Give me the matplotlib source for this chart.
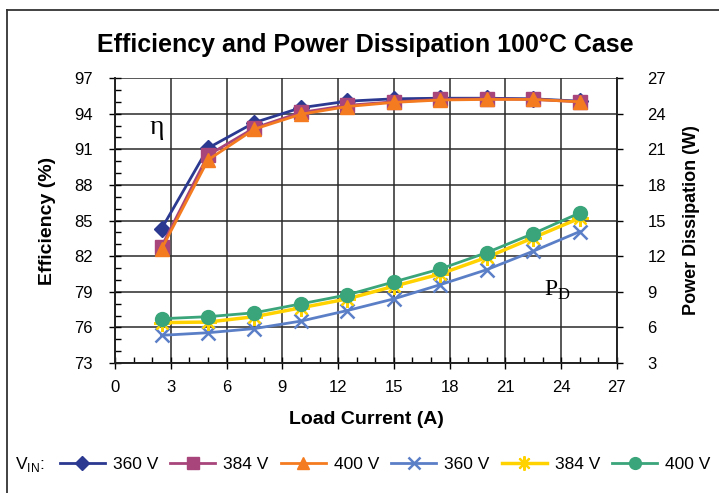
import numpy as np
import matplotlib
matplotlib.use("Agg")
import matplotlib.pyplot as plt
from matplotlib.lines import Line2D
from matplotlib.ticker import MultipleLocator, FixedLocator

plt.rcParams['font.family'] = ['Liberation Sans', 'DejaVu Sans']

# Данные
load_current = [2.5, 5, 7.5, 10, 12.5, 15, 17.5, 20, 22.5, 25]

eff_360 = [84.3, 91.1, 93.25, 94.5, 95.05, 95.25, 95.3, 95.3, 95.25, 95.05]
eff_384 = [82.8, 90.5, 92.8, 94.1, 94.7, 95.0, 95.2, 95.25, 95.2, 95.0]
eff_400 = [82.6, 90.1, 92.7, 93.95, 94.6, 94.95, 95.15, 95.2, 95.2, 95.0]

pd_360 = [5.33, 5.55, 5.9, 6.53, 7.42, 8.4, 9.6, 10.86, 12.42, 14.07]
pd_384 = [6.4, 6.45, 6.9, 7.65, 8.4, 9.46, 10.5, 11.9, 13.55, 15.2]
pd_400 = [6.73, 6.9, 7.23, 7.98, 8.74, 9.83, 10.92, 12.3, 13.9, 15.64]

eff_ticks = [73, 76, 79, 82, 85, 88, 91, 94, 97]
legend_labels = ['360 V', '384 V', '400 V', '360 V', '384 V', '400 V']

fig = plt.figure(figsize=(7.19, 4.93), dpi=100)
ax = fig.add_axes([0.160, 0.2637, 0.698, 0.578])
ax2 = ax.twinx()

# КПД
l1, = ax.plot(load_current, eff_360, color='#2B3990', marker='D', markersize=8, lw=2, zorder=5)
l2, = ax.plot(load_current, eff_384, color='#A8457A', marker='s', markersize=10, lw=2, zorder=5)
l3, = ax.plot(load_current, eff_400, color='#F47B20', marker='^', markersize=10, lw=2, zorder=6)

# Рассеиваемая мощность
l4, = ax2.plot(load_current, pd_360, color='#5B7FC7', marker='x', markersize=10, mew=1.8, lw=2)
l5, = ax2.plot(load_current, pd_384, color='#FFD200', marker=(8, 2, 0), markersize=12, mew=1.6, lw=2.5)
l6, = ax2.plot(load_current, pd_400, color='#3AA57A', marker='o', markersize=10, lw=2)

ax.set_xlim(0, 27)
ax.set_ylim(73, 97)
ax2.set_ylim(3, 27)
ax.xaxis.set_major_locator(MultipleLocator(3))
ax.xaxis.set_minor_locator(MultipleLocator(1))
ax.yaxis.set_major_locator(FixedLocator(eff_ticks))
ax.yaxis.set_minor_locator(MultipleLocator(1))
ax2.yaxis.set_major_locator(MultipleLocator(3))

ax.grid(True, which='major', color='#2a2a2a', lw=1.1)
ax.set_axisbelow(True)
ax.tick_params(which='major', direction='inout', length=8, width=1, labelsize=12)
ax.tick_params(axis='y', which='major', pad=12)
ax.tick_params(axis='x', which='major', pad=8)
ax.tick_params(which='minor', direction='in', length=4, width=1)
ax2.tick_params(which='major', direction='out', length=4, width=1, labelsize=12, pad=18)

for a in (ax, ax2):
    for s in a.spines.values():
        s.set_linewidth(1.2)
        s.set_color('#222222')
    a.spines['top'].set_visible(False)

ax.set_xlabel('Load Current (A)', fontsize=14, fontweight='bold', labelpad=12)
ax.set_ylabel('Efficiency (%)', fontsize=14, fontweight='bold', labelpad=13)
ax2.set_ylabel('Power Dissipation (W)', fontsize=13, fontweight='bold', labelpad=12)

fig.text(0.508, 0.909, 'Efficiency and Power Dissipation 100°C Case',
         ha='center', va='center', fontsize=18, fontweight='bold')

ax.text(2.25, 92.8, 'η', fontsize=20, family='Liberation Serif', ha='center', va='center')
ax.text(23.8, 79.1, r'P$_\mathregular{D}$', fontsize=17, family='Liberation Serif', ha='center', va='center')

# Легенда
fig.text(0.021, 0.058, r'V$_\mathregular{IN}$:', fontsize=12.5, va='center')
fig.legend([l1, l2, l3, l4, l5, l6], legend_labels, loc='center left',
           bbox_to_anchor=(0.083, 0.058), ncol=6, frameon=False, fontsize=12.5,
           handlelength=2.6, handletextpad=0.45, columnspacing=0.7, markerscale=0.85,
           borderaxespad=0.0, borderpad=0.0)

# Рамка рисунка
fig.add_artist(Line2D([0.010, 0.010], [0.0, 0.98], transform=fig.transFigure, color='#333333', lw=1.3))
fig.add_artist(Line2D([0.010, 1.0], [0.98, 0.98], transform=fig.transFigure, color='#333333', lw=1.3))

fig.savefig('out.png', dpi=100)
